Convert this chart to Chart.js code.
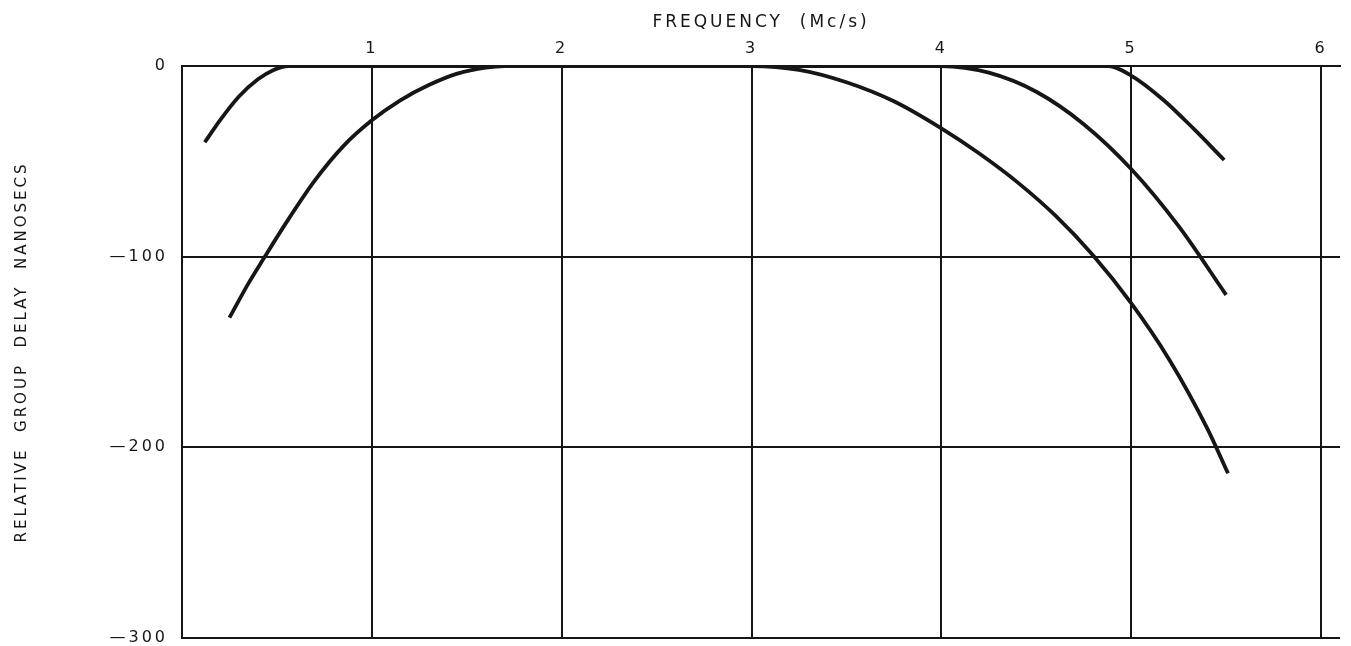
<!DOCTYPE html>
<html>
<head>
<meta charset="utf-8">
<title>Relative group delay</title>
<script src="https://cdn.jsdelivr.net/npm/chart.js@4.4.1/dist/chart.umd.min.js"></script>
<style>
  html, body { margin: 0; padding: 0; background: #fff; }
  #wrap { width: 1351px; height: 646px; position: relative; }
</style>
</head>
<body>
<div id="wrap"><canvas id="chart"></canvas></div>
<script>
// Frequency axis (Mc/s) and delay axis (nanosecs)
const freqTicks = [0, 1, 2, 3, 4, 5, 6];
const delayTicks = [-300, -200, -100, 0];

// Curve 1: short low-end rise, flat, short high-end drop
const curve1Freq  = [0.12, 0.2, 0.3, 0.4, 0.48, 0.56, 4.88, 5.0, 5.17, 5.33, 5.49];
const curve1Delay = [-40, -28.5, -16, -7, -2.2, 0, 0, -5, -17.8, -33, -49.3];

// Curve 2: long low-end rise, flat, drop from 4 Mc/s
const curve2Freq  = [0.25, 0.35, 0.43, 0.55, 0.7, 0.85, 1.0, 1.15, 1.3, 1.45, 1.6, 1.7,
                     4.0, 4.25, 4.5, 4.75, 5.0, 5.25, 5.5];
const curve2Delay = [-132, -114, -101, -82, -60, -42, -28.5, -18, -10, -4, -0.8, 0,
                     0, -3.5, -13.5, -30.5, -54, -84, -120];

// Curve 3: flat, drop from 3 Mc/s
const curve3Freq  = [2.6, 3.0, 3.25, 3.5, 3.75, 4.0, 4.2, 4.4, 4.6, 4.8, 5.0, 5.2, 5.4, 5.51];
const curve3Delay = [0, 0, -2, -8.5, -18.5, -32.7, -45.9, -60.9, -78.4, -99.4, -124.4, -153.9, -189.9, -213.6];

const ink = '#161616';

function toPoints(xs, ys) {
  return xs.map((x, i) => ({ x: x, y: ys[i] }));
}

function curve(xs, ys) {
  return {
    data: toPoints(xs, ys),
    borderColor: ink,
    borderWidth: 3.8,
    pointRadius: 0,
    fill: false,
    cubicInterpolationMode: 'monotone'
  };
}

// wide-spaced lettering for all labels
const spacing = {
  id: 'spacing',
  beforeDraw(chart) {
    chart.ctx.letterSpacing = '3px';
  }
};

const config = {
  type: 'line',
  data: {
    datasets: [
      curve(curve1Freq, curve1Delay),
      curve(curve2Freq, curve2Delay),
      curve(curve3Freq, curve3Delay)
    ]
  },
  options: {
    responsive: true,
    maintainAspectRatio: false,
    animation: false,
    layout: { padding: { left: 0, right: 11, top: 0, bottom: 8 } },
    plugins: {
      legend: { display: false },
      tooltip: { enabled: false }
    },
    scales: {
      x: {
        type: 'linear',
        position: 'top',
        min: 0,
        max: 6.1,
        afterBuildTicks(scale) {
          scale.ticks = freqTicks.map(v => ({ value: v }));
        },
        afterFit(scale) { scale.height = 66; },
        grid: { color: ink, lineWidth: 2, drawTicks: false },
        border: { color: ink, width: 2 },
        ticks: {
          color: ink,
          padding: 8,
          maxRotation: 0,
          font: { family: 'DejaVu Sans', size: 16 },
          callback: v => (v === 0 ? '' : String(v))
        },
        title: {
          display: true,
          text: 'FREQUENCY  (Mc/s)',
          color: ink,
          font: { family: 'DejaVu Sans', size: 17 },
          padding: { top: 12, bottom: 0 }
        }
      },
      y: {
        type: 'linear',
        min: -300,
        max: 0,
        afterBuildTicks(scale) {
          scale.ticks = delayTicks.map(v => ({ value: v }));
        },
        afterFit(scale) {
          scale.width = 182;
          scale.paddingTop = 0;
          scale.paddingBottom = 0;
        },
        grid: { color: ink, lineWidth: 2, drawTicks: false },
        border: { color: ink, width: 2 },
        ticks: {
          color: ink,
          padding: 14,
          font: { family: 'DejaVu Sans', size: 16 },
          callback: v => (v === 0 ? '0' : '\u2014' + Math.abs(v))
        },
        title: {
          display: true,
          text: 'RELATIVE  GROUP  DELAY  NANOSECS',
          color: ink,
          font: { family: 'DejaVu Sans', size: 15 },
          padding: { top: 13, bottom: 0 }
        }
      }
    }
  },
  plugins: [spacing]
};

new Chart(document.getElementById('chart'), config);
</script>
</body>
</html>
